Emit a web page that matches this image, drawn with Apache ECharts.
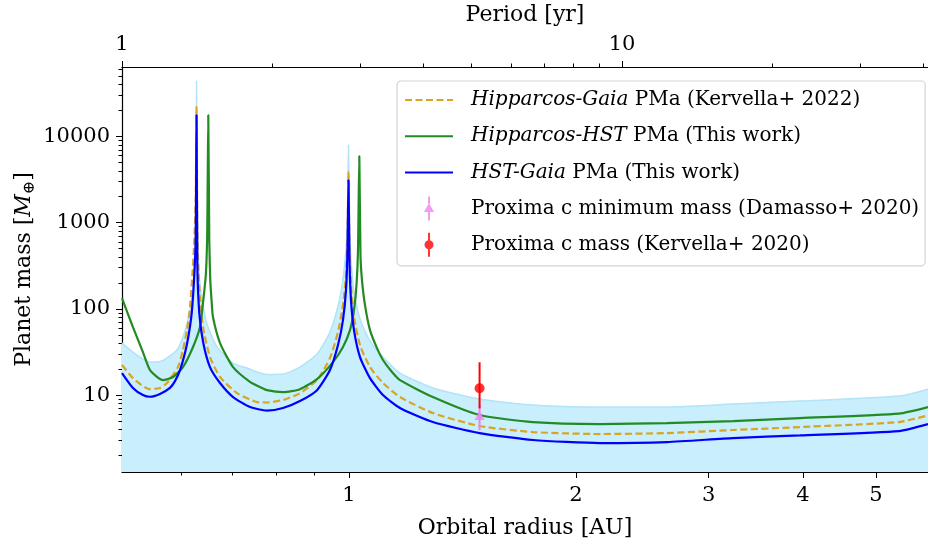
<!DOCTYPE html>
<html>
<head>
<meta charset="utf-8">
<title>Proxima c mass limits</title>
<script src="https://cdn.jsdelivr.net/npm/echarts@6/dist/echarts.min.js"></script>
<style>
  html, body { margin: 0; padding: 0; background: #fff; }
  #chart { width: 928px; height: 549px; }
</style>
</head>
<body>
<div id="chart"></div>
<script>
// ticks
const radiusTicks = [1, 2, 3, 4, 5];
const radiusMinorTicks = [0.6, 0.7, 0.8, 0.9];
const periodTicks = [1, 10];
const periodMinorTicks = [2, 3, 4, 5, 6, 7, 8, 9, 20, 30, 40];
const massTicks = [10, 100, 1000, 10000];
const massMinorTicks = [2, 3, 4, 5, 6, 7, 8, 9, 20, 30, 40, 50, 60, 70, 80, 90,
  200, 300, 400, 500, 600, 700, 800, 900, 2000, 3000, 4000, 5000, 6000, 7000, 8000, 9000,
  20000, 30000, 40000, 50000, 60000];

// [orbital radius AU, planet mass Mearth]
const bandUpper = [[0.500, 40.1], [0.517, 31.5], [0.533, 26.2], [0.5446, 24.1], [0.5615, 24.5], [0.5735, 26.9],
  [0.5914, 33.3], [0.6023, 47.1], [0.6116, 74.1], [0.6192, 137], [0.6230, 282], [0.6258, 1070], [0.6278, 43950],
  [0.6296, 938], [0.6325, 247], [0.6377, 137], [0.6475, 68.4], [0.6683, 36.1], [0.7019, 23.5], [0.7391, 20.0],
  [0.7619, 18.0], [0.7783, 17.3], [0.8176, 17.5], [0.8610, 21.1], [0.9070, 29.9],
  [0.9436, 53.8], [0.9670, 108], [0.9818, 222], [0.9909, 494], [0.9954, 1260], [0.9985, 7950], [1.0015, 1100],
  [1.0061, 378], [1.0154, 161], [1.0342, 76.1], [1.0663, 42.3], [1.1093, 27.6], [1.1685, 18.0], [1.292, 12.1],
  [1.49, 8.99], [1.754, 7.66], [2.152, 7.26], [2.641, 7.26], [3.231, 7.87], [3.964, 8.52], [5.363, 9.73], [5.86, 11.7]];

const hipGaia = [[0.500, 22.3], [0.517, 15.7], [0.533, 12.7], [0.5446, 11.7], [0.5615, 12.1], [0.5735, 13.8],
  [0.5932, 21.1], [0.6023, 33.3], [0.6097, 56.7], [0.6154, 105], [0.6192, 216], [0.6230, 521], [0.6262, 1830],
  [0.6278, 21900], [0.6293, 820], [0.6316, 282], [0.6345, 137], [0.6403, 61.5], [0.6541, 27.6], [0.6745, 16.2],
  [0.7103, 10.55], [0.7549, 8.29], [0.7783, 8.2], [0.8176, 8.75], [0.8610, 10.5], [0.9070, 14.9],
  [0.9436, 26.9], [0.9670, 53.8], [0.9818, 111], [0.9909, 247], [0.9954, 628], [0.9985, 3870], [1.0015, 550],
  [1.0061, 189], [1.0154, 80.3], [1.0342, 38.0], [1.0663, 21.1], [1.1093, 13.8], [1.1685, 9.48], [1.292, 6.18],
  [1.49, 4.37], [1.754, 3.72], [2.152, 3.53], [2.641, 3.62], [3.231, 3.93], [3.964, 4.25], [5.363, 4.86], [5.86, 5.8]];

const hipHst = [[0.500, 133], [0.517, 61.5], [0.533, 31.5], [0.5446, 19.5], [0.5666, 14.9], [0.5843, 16.2],
  [0.6023, 21.1], [0.6211, 36.1], [0.6345, 61.5], [0.6403, 117], [0.6461, 260], [0.6487, 820], [0.6507, 17700],
  [0.6527, 628], [0.6547, 216], [0.6575, 120], [0.6601, 80.3], [0.6745, 40.1], [0.7019, 21.1], [0.7391, 14.2],
  [0.7619, 12.4], [0.7783, 11.4], [0.8176, 10.8],
  [0.8610, 11.7], [0.9070, 15.3], [0.9523, 24.1], [0.9818, 36.1], [1.0031, 56.7], [1.0154, 96.7], [1.0232, 189],
  [1.0279, 480], [1.0320, 5930], [1.0357, 419], [1.0405, 216], [1.0501, 110.7], [1.0663, 56.7], [1.0893, 35],
  [1.1093, 25.5], [1.1404, 18.5], [1.1685, 14.9], [1.292, 9.48], [1.49, 5.86], [1.754, 4.86], [2.152, 4.61],
  [2.641, 4.73], [3.231, 4.99], [3.964, 5.41], [5.363, 6.1], [5.86, 7.26]];

const hstGaia = [[0.500, 18.0], [0.517, 12.1], [0.533, 10.0], [0.5446, 9.55], [0.5615, 10.3], [0.5789, 12.1],
  [0.5878, 14.5], [0.5969, 19.5], [0.6060, 30.7], [0.6122, 47.1], [0.6186, 89.4], [0.6230, 216], [0.6262, 628],
  [0.6278, 17700], [0.6293, 340], [0.6331, 89.4], [0.6409, 40.1], [0.6541, 21.1], [0.6745, 13.8], [0.7019, 9.48],
  [0.7391, 7.26], [0.7783, 6.60], [0.8176, 7.07], [0.8610, 8.52], [0.9070, 11.4],
  [0.9436, 19.5], [0.9670, 38.0], [0.9818, 74.1], [0.9909, 165], [0.9954, 480], [0.9985, 3120], [1.0015, 368],
  [1.0061, 127], [1.0154, 56.7], [1.0342, 27.6], [1.0663, 15.7], [1.1093, 10.0], [1.1685, 7.07], [1.292, 4.86],
  [1.49, 3.62], [1.754, 3.01], [2.152, 2.77], [2.641, 2.85], [3.231, 3.17], [3.964, 3.40], [5.363, 3.82], [5.86, 4.61]];

// [radius, mass, low, high]
const proximaMinMass = [1.49, 5.8, 3.9, 7.7];
const proximaMass = [1.49, 12, 7.0, 24];

const FONT = "DejaVu Serif";
const names = {
  hipGaia: "Hipparcos-Gaia PMa (Kervella+ 2022)",
  hipHst: "Hipparcos-HST PMa (This work)",
  hstGaia: "HST-Gaia PMa (This work)",
  minMass: "Proxima c minimum mass (Damasso+ 2020)",
  mass: "Proxima c mass (Kervella+ 2020)",
};
const legendText = {};
legendText[names.hipGaia] = "{i|Hipparcos-Gaia} PMa (Kervella+ 2022)";
legendText[names.hipHst] = "{i|Hipparcos-HST} PMa (This work)";
legendText[names.hstGaia] = "{i|HST-Gaia} PMa (This work)";

const circleIcon = "path://M3.5,0H5.5V7.6H3.5Z M3.5,16.4H5.5V24H3.5Z M9,12A4.5,4.5,0,1,1,0,12A4.5,4.5,0,1,1,9,12Z";
const triangleIcon = "path://M4,0H6V7H4Z M4,15.5H6V24H4Z M5,6.5L10,15.5L0,15.5Z";

const myChart = echarts.init(document.getElementById("chart"));

function tickAxis(pos, min, max, values, len) {
  return {
    type: "log", logBase: 10, min: min, max: max, position: pos,
    axisLine: { show: false },
    axisTick: { show: true, length: len, customValues: values, lineStyle: { color: "#000", width: 1 } },
    axisLabel: { show: false },
    splitLine: { show: false },
  };
}

function errorBar(name, point, color) {
  return {
    name: name + " err", type: "custom", xAxisIndex: 0, yAxisIndex: 0, silent: true, z: 10,
    data: [point], encode: { x: 0, y: [2, 3] },
    renderItem: function (params, api) {
      const p1 = api.coord([api.value(0), api.value(2)]);
      const p2 = api.coord([api.value(0), api.value(3)]);
      return { type: "line", shape: { x1: p1[0], y1: p1[1], x2: p2[0], y2: p2[1] },
        style: { stroke: color, lineWidth: 2 } };
    },
  };
}

const hideSymbol = { opacity: 0 };
const SMOOTH = 0.2;

myChart.setOption({
  animation: false,
  grid: { left: 122, right: 0, top: 67, bottom: 77, outerBoundsMode: "none" },
  legend: {
    orient: "vertical", left: 397, top: 81,
    itemWidth: 48, itemHeight: 24, itemGap: 12.2,
    selectedMode: false,
    backgroundColor: "rgba(255,255,255,0.85)",
    borderColor: "#d4d4d4", borderWidth: 1.2, borderRadius: 4,
    padding: [7, 6, 9, 7],
    formatter: function (name) { return legendText[name] || name; },
    textStyle: {
      fontFamily: FONT, fontSize: 20, color: "#000", lineHeight: 24, padding: [0, 0, 0, 13],
      rich: { i: { fontFamily: FONT, fontSize: 20, fontStyle: "italic", color: "#000", lineHeight: 24 } },
    },
    data: [
      { name: names.hipGaia, itemStyle: hideSymbol },
      { name: names.hipHst, itemStyle: hideSymbol },
      { name: names.hstGaia, itemStyle: hideSymbol },
      { name: names.minMass, icon: triangleIcon },
      { name: names.mass, icon: circleIcon },
    ],
  },
  xAxis: [
    {
      type: "log", logBase: 10, min: 0.5, max: 5.86, position: "bottom",
      name: "Orbital radius [AU]", nameLocation: "middle", nameGap: 45, nameMoveOverlap: false,
      nameTextStyle: { fontFamily: FONT, fontSize: 22, color: "#000" },
      axisLine: { show: true, lineStyle: { color: "#000", width: 1.2 } },
      axisTick: { show: true, length: 6, customValues: radiusTicks, lineStyle: { color: "#000", width: 1 } },
      axisLabel: { customValues: radiusTicks, formatter: function (v) { return String(v); },
        fontFamily: FONT, fontSize: 21, color: "#000", margin: 13 },
      splitLine: { show: false },
    },
    {
      type: "log", logBase: 10, min: 1, max: 40.9, position: "top",
      name: "Period [yr]", nameLocation: "middle", nameGap: 41, nameMoveOverlap: false,
      nameTextStyle: { fontFamily: FONT, fontSize: 22, color: "#000" },
      axisLine: { show: true, lineStyle: { color: "#000", width: 1.2 } },
      axisTick: { show: true, length: 6, customValues: periodTicks, lineStyle: { color: "#000", width: 1 } },
      axisLabel: { customValues: periodTicks, formatter: function (v) { return String(v); },
        fontFamily: FONT, fontSize: 21, color: "#000", margin: 12 },
      splitLine: { show: false },
    },
    tickAxis("bottom", 0.5, 5.86, radiusMinorTicks, 3.5),
    tickAxis("top", 1, 40.9, periodMinorTicks, 3.5),
  ],
  yAxis: [
    {
      type: "log", logBase: 10, min: 1.28, max: 64000, position: "left",
      name: "Planet mass [{i|M}{s|⊕}]", nameLocation: "middle", nameGap: 84, nameMoveOverlap: false,
      nameTextStyle: { fontFamily: FONT, fontSize: 22, color: "#000", lineHeight: 28,
        rich: {
          i: { fontFamily: FONT, fontSize: 22, fontStyle: "italic", color: "#000", lineHeight: 28 },
          s: { fontFamily: FONT, fontSize: 16, color: "#000", lineHeight: 16, verticalAlign: "bottom" },
        } },
      axisLine: { show: true, lineStyle: { color: "#000", width: 1.2 } },
      axisTick: { show: true, length: 6, customValues: massTicks, lineStyle: { color: "#000", width: 1 } },
      axisLabel: { customValues: massTicks, formatter: function (v) { return String(v); },
        fontFamily: FONT, fontSize: 21, color: "#000", margin: 12 },
      splitLine: { show: false },
    },
    {
      type: "log", logBase: 10, min: 1.28, max: 64000, position: "left",
      axisLine: { show: false },
      axisTick: { show: true, length: 3.5, customValues: massMinorTicks, lineStyle: { color: "#000", width: 1 } },
      axisLabel: { show: false },
      splitLine: { show: false },
    },
  ],
  series: [
    {
      name: "band", type: "line", data: bandUpper, symbol: "none", silent: true, z: 1, smooth: SMOOTH,
      lineStyle: { color: "#b2e3f8", width: 1.5 },
      areaStyle: { color: "#c9eefc", opacity: 1, origin: "start" },
    },
    {
      name: names.hipGaia, type: "line", data: hipGaia, symbol: "none", z: 3, smooth: SMOOTH,
      color: "#DAA520", lineStyle: { color: "#DAA520", width: 2.2, type: [7, 3.5] },
    },
    {
      name: names.hipHst, type: "line", data: hipHst, symbol: "none", z: 3, smooth: SMOOTH,
      color: "#228B22", lineStyle: { color: "#228B22", width: 2.2 },
    },
    {
      name: names.hstGaia, type: "line", data: hstGaia, symbol: "none", z: 3, smooth: SMOOTH,
      color: "#0000FF", lineStyle: { color: "#0000FF", width: 2.2 },
    },
    errorBar(names.minMass, proximaMinMass, "#EE82EE"),
    {
      name: names.minMass, type: "scatter", data: [proximaMinMass.slice(0, 2)], z: 11,
      symbol: "triangle", symbolSize: [10, 9], color: "#EE82EE",
    },
    errorBar(names.mass, proximaMass, "#FF0000"),
    {
      name: names.mass, type: "scatter", data: [proximaMass.slice(0, 2)], z: 11,
      symbol: "circle", symbolSize: 10, color: "#FF0000",
    },
  ],
});
</script>
</body>
</html>
